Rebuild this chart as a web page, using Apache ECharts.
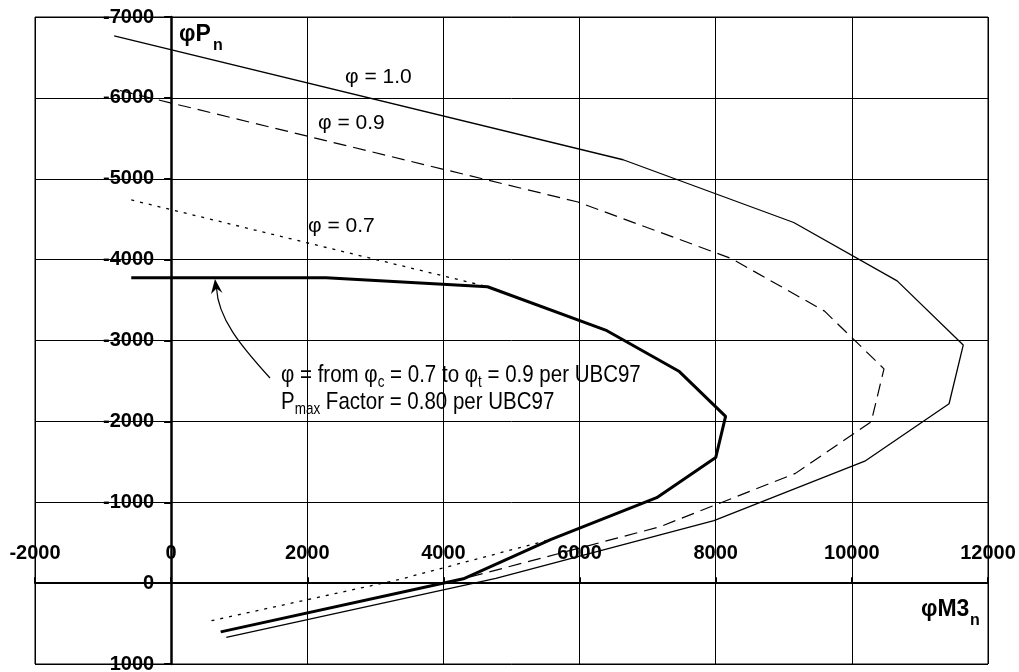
<!DOCTYPE html>
<html>
<head>
<meta charset="utf-8">
<script src="https://cdn.jsdelivr.net/npm/echarts@6/dist/echarts.min.js"></script>
<style>
html, body { margin: 0; background: #fff; }
#chart { width: 1019px; height: 672px; }
</style>
</head>
<body>
<div id="chart"></div>
<script>
// moment (x) and axial load (y)
// phi = 1.0 (nominal)
var m10 = [-837, 6640, 9146, 10665, 11636, 11428, 10190, 7974, 4770, 810];
var p10 = [-6768, -5235, -4459, -3737, -2944, -2218, -1508, -773, -60, 670];
// phi = 0.9
var m09 = [-753, 5976, 8231, 9599, 10472, 10285, 9171, 7177, 4293, 729];
var p09 = [-6091, -4712, -4013, -3363, -2650, -1996, -1357, -696, -54, 603];
// phi = 0.7
var m07 = [-586, 4648, 6402, 7466, 8145, 8000, 7133, 5582, 3339, 567];
var p07 = [-4738, -3665, -3121, -2616, -2061, -1553, -1056, -541, -42, 469];
// design curve, phi from 0.7 to 0.9, Pmax capped
var mDes = [-586, 2276, 4648, 6402, 7466, 8145, 8000, 7133, 5582, 4293, 729];
var pDes = [-3776, -3776, -3665, -3121, -2616, -2061, -1553, -1056, -541, -54, 603];

var xRange = [-2000, 12000, 2000];
var yRange = [-7000, 1000, 1000];

var gridBox = { left: 35, top: 17, width: 953, height: 647 };

function pairs(m, p) {
	var out = [];
	for (var i = 0; i < m.length; i++) out.push([m[i], p[i]]);
	return out;
}

// axes drawn through zero: shift them from the grid edge to the zero line
var yAxisShift = -(0 - xRange[0]) / (xRange[1] - xRange[0]) * gridBox.width;
var xAxisShift = -(yRange[1] - 0) / (yRange[1] - yRange[0]) * gridBox.height;

var tickFont = { color: '#000', fontFamily: 'Liberation Sans, Arial, sans-serif', fontWeight: 'bold', fontSize: 20 };
var noteFont = '21px "Liberation Sans", Arial, sans-serif';

function curve(name, data, width, type) {
	return {
		name: name,
		type: 'line',
		data: data,
		showSymbol: false,
		silent: true,
		clip: false,
		lineStyle: { color: '#000', width: width, type: type },
		z: 3
	};
}

var myChart = echarts.init(document.getElementById('chart'));
myChart.setOption({
	animation: false,
	backgroundColor: '#fff',
	grid: Object.assign({ show: true, borderColor: '#000', borderWidth: 1, containLabel: false, outerBoundsMode: 'none' }, gridBox),
	xAxis: {
		type: 'value',
		position: 'bottom',
		offset: xAxisShift,
		min: xRange[0], max: xRange[1], interval: xRange[2],
		axisLine: { onZero: false, lineStyle: { color: '#000', width: 2 } },
		axisTick: { show: true, inside: true, length: 6, lineStyle: { color: '#000', width: 2 } },
		axisLabel: Object.assign({ inside: true, margin: 20, formatter: function (v) { return String(v); } }, tickFont),
		splitLine: { show: true, lineStyle: { color: '#000', width: 1 } }
	},
	yAxis: {
		type: 'value',
		position: 'left',
		offset: yAxisShift,
		inverse: true,
		min: yRange[0], max: yRange[1], interval: yRange[2],
		axisLine: { onZero: false, lineStyle: { color: '#000', width: 2.5 } },
		axisTick: { show: true, length: 7, lineStyle: { color: '#000', width: 2 } },
		axisLabel: Object.assign({ margin: 17, formatter: function (v) { return String(v); } }, tickFont),
		splitLine: { show: true, lineStyle: { color: '#000', width: 1 } }
	},
	series: [
		curve('phi10', pairs(m10, p10), 1.3, 'solid'),
		curve('phi09', pairs(m09, p09), 1.2, [13, 7]),
		curve('phi07', pairs(m07, p07), 1.3, [3, 6]),
		curve('design', pairs(mDes, pDes), 3, 'solid')
	],
	graphic: [
		// axis names
		{ type: 'text', style: { text: '\u03c6P', x: 179, y: 35, fill: '#000', font: 'bold 23px "Liberation Sans", Arial, sans-serif', textVerticalAlign: 'middle' } },
		{ type: 'text', style: { text: 'n', x: 213, y: 46, fill: '#000', font: 'bold 16px "Liberation Sans", Arial, sans-serif', textVerticalAlign: 'middle' } },
		{ type: 'text', style: { text: '\u03c6M3', x: 921, y: 610, fill: '#000', font: 'bold 23px "Liberation Sans", Arial, sans-serif', textVerticalAlign: 'middle' } },
		{ type: 'text', style: { text: 'n', x: 970, y: 621, fill: '#000', font: 'bold 16px "Liberation Sans", Arial, sans-serif', textVerticalAlign: 'middle' } },
		// curve labels
		{ type: 'text', style: { text: '\u03c6 = 1.0', x: 345, y: 77, fill: '#000', font: noteFont, textVerticalAlign: 'middle' } },
		{ type: 'text', style: { text: '\u03c6 = 0.9', x: 318, y: 123, fill: '#000', font: noteFont, textVerticalAlign: 'middle' } },
		{ type: 'text', style: { text: '\u03c6 = 0.7', x: 308, y: 226, fill: '#000', font: noteFont, textVerticalAlign: 'middle' } },
		// note (tall, narrow lettering)
		{
			type: 'text',
			x: 281, y: 362,
			scaleY: 1.2,
			style: {
				x: 0, y: 0,
				text: '{a|\u03c6 = from \u03c6}{s|c}{a| = 0.7 to \u03c6}{s|t}{a| = 0.9 per UBC97}\n{a|P}{s|max}{a| Factor = 0.80 per UBC97}',
				fill: '#000',
				rich: {
					a: { fontFamily: 'Liberation Sans, Arial, sans-serif', fontSize: 20.5, lineHeight: 22.5, color: '#000' },
					s: { fontFamily: 'Liberation Sans, Arial, sans-serif', fontSize: 13.5, lineHeight: 22.5, padding: [11, 0, 0, 0], color: '#000' }
				}
			}
		},
		// arrow
		{ type: 'bezierCurve', shape: { x1: 270, y1: 378, cpx1: 240, cpy1: 345, cpx2: 218, cpy2: 318, x2: 216.5, y2: 288 }, style: { stroke: '#000', lineWidth: 1.2, fill: null } },
		{ type: 'polygon', shape: { points: [[215, 279], [222.5, 293], [216.5, 288.5], [211, 294]] }, style: { fill: '#000' } }
	]
});
</script>
</body>
</html>
